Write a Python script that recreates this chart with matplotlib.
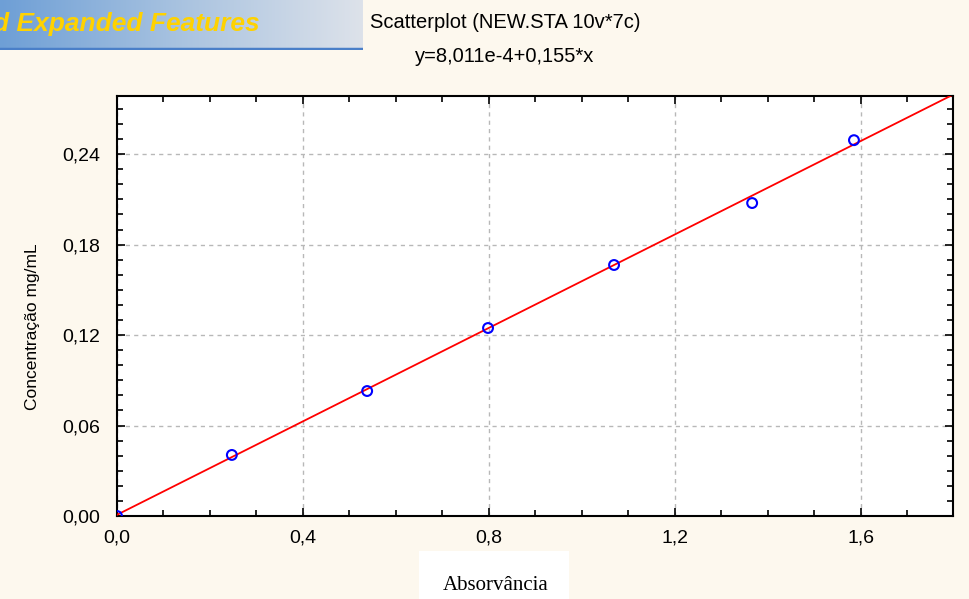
import numpy as np
import matplotlib.pyplot as plt
from matplotlib.ticker import MultipleLocator, FuncFormatter
from matplotlib.colors import LinearSegmentedColormap

# dados
absorv = [0.0, 0.247, 0.538, 0.798, 1.069, 1.366, 1.585]
conc = [0.0, 0.0405, 0.0829, 0.1247, 0.1665, 0.2076, 0.2493]
b0 = 8.011e-4
b1 = 0.155
x_ticks = [0.0, 0.4, 0.8, 1.2, 1.6]
y_ticks = [0.00, 0.06, 0.12, 0.18, 0.24]

bg = '#fdf8ee'
fig = plt.figure(figsize=(9.69, 5.99), dpi=100, facecolor=bg)
W, H = 969, 599

# faixa azul em cima a esquerda
ban = fig.add_axes([0, 1 - 50 / H, 363 / W, 50 / H])
grad = np.linspace(0, 1, 256).reshape(1, -1)
cm = LinearSegmentedColormap.from_list('b', ['#6e9fd6', '#a9c3e0', '#dde2ea'])
ban.imshow(grad, aspect='auto', cmap=cm, extent=[0, 1, 0, 1])
ban.axhline(0.02, color='#4a7fc8', lw=2.5)
ban.set_xlim(0, 1)
ban.set_ylim(0, 1)
ban.axis('off')
ban.text(-0.02, 0.52, 'd Expanded Features', color='#ffd200', fontsize=19,
         fontweight='bold', fontstyle='italic', family='Liberation Sans',
         va='center', ha='left')

ax = fig.add_axes([117 / W, 1 - 516 / H, (953 - 117) / W, (516 - 96) / H])
ax.set_facecolor('white')
xx = np.array([0, 1.8])
ax.plot(xx, b0 + b1 * xx, color='#ff0000', lw=1.3, zorder=3)
ax.scatter(absorv, conc, s=50, facecolors='none', edgecolors='#0000ff',
           linewidths=1.5, zorder=4, clip_on=True)
ax.set_xlim(0, 1.798)
ax.set_ylim(0, 0.2786)
ax.set_xticks(x_ticks)
ax.set_yticks(y_ticks)
ax.xaxis.set_minor_locator(MultipleLocator(0.1))
ax.yaxis.set_minor_locator(MultipleLocator(0.01))
ax.xaxis.set_major_formatter(FuncFormatter(lambda v, p: f'{v:.1f}'.replace('.', ',')))
ax.yaxis.set_major_formatter(FuncFormatter(lambda v, p: f'{v:.2f}'.replace('.', ',')))
ax.tick_params(which='both', direction='in', top=True, right=True, width=1.2,
               labelsize=14, labelfontfamily='Liberation Sans')
ax.tick_params(axis='y', which='major', pad=12)
ax.tick_params(axis='x', which='major', pad=10)
ax.tick_params(which='major', length=6)
ax.tick_params(which='minor', length=4)
ax.grid(True, which='major', color='#b8b8b8', ls=(0, (3, 3)), lw=1)
for s in ax.spines.values():
    s.set_linewidth(1.5)

fig.text(33 / W, 1 - 327 / H, 'Concentração mg/mL', rotation=90, ha='center',
         va='center', fontsize=12.5, family='Liberation Sans')

# caixa branca do rotulo x
fig.patches.append(plt.Rectangle((419 / W, 0), 150 / W, 48 / H, transform=fig.transFigure,
                                 facecolor='white', edgecolor='none'))
fig.text(496 / W, 1 - 586 / H, 'Absorvância', ha='center', va='center',
         fontsize=15, family='Liberation Serif')

fig.text(505 / W, 1 - 22 / H, 'Scatterplot (NEW.STA 10v*7c)', ha='center',
         va='center', fontsize=14.5, family='Liberation Sans')
fig.text(505 / W, 1 - 57 / H, 'y=8,011e-4+0,155*x', ha='center', va='center',
         fontsize=14.5, family='Liberation Sans')

fig.savefig('out.png', dpi=100, facecolor=bg)
